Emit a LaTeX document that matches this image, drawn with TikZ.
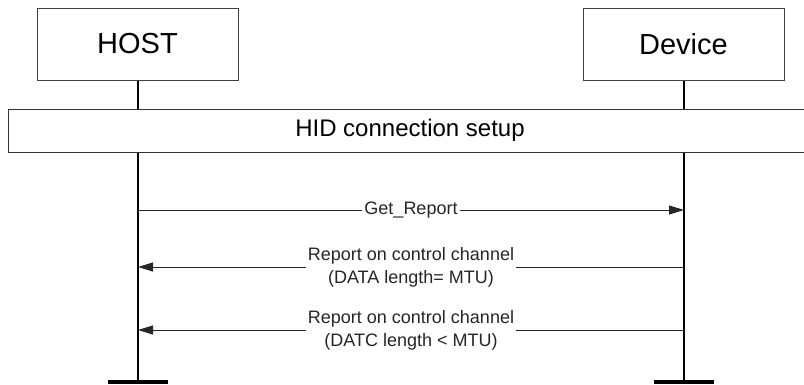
\documentclass[tikz,border=0pt]{standalone}
\usepackage{fontspec}
\setmainfont{Liberation Sans}
\usetikzlibrary{arrows.meta}
\tikzset{
  actor/.style={draw=black!75, line width=1pt, fill=white, minimum width=201pt, minimum height=72pt, inner sep=0pt, font=\fontsize{29}{34}\selectfont},
  setupbox/.style={draw=black!80, line width=1pt, fill=white, minimum width=798pt, minimum height=43pt, inner sep=0pt},
  setuplbl/.style={inner sep=0pt, font=\fontsize{24}{28}\selectfont},
  life/.style={line width=2pt, black},
  endbar/.style={line width=4pt, black},
  msg/.style={line width=1pt, black!85, -{Triangle[length=15pt,width=9pt]}},
  lbl/.style={fill=white, inner sep=2pt, align=center, font=\fontsize{18}{23}\selectfont},
}
\begin{document}
\begin{tikzpicture}[x=1pt, y=-1pt]
\useasboundingbox (0,0) rectangle (804,384);
\node[actor] (host) at (137.5,44) {HOST};
\node[actor] (dev) at (683.5,44) {Device};
\coordinate (hostend) at (138,384);
\coordinate (devend) at (684,384);
\draw[life] (host.south -| hostend) -- (hostend);
\draw[life] (dev.south -| devend) -- (devend);
\coordinate (hbl) at (108,382);
\coordinate (hbr) at (168,382);
\coordinate (dbl) at (654,382);
\coordinate (dbr) at (714,382);
\draw[endbar] (hbl) -- (hbr);
\draw[endbar] (dbl) -- (dbr);
\node[setupbox] (setup) at (407,130.5) {};
\node[setuplbl] (setuptext) at (410,130.5) {HID connection setup};
\coordinate (h1) at (138,210);
\coordinate (d1) at (684,210);
\coordinate (h2) at (138,267);
\coordinate (d2) at (684,267);
\coordinate (h3) at (138,330);
\coordinate (d3) at (684,330);
\draw[msg] (h1) -- node[lbl] (m1) {Get\_Report} (d1);
\draw[msg] (d2) -- node[lbl] (m2) {Report on control channel\\(DATA length= MTU)} (h2);
\draw[msg] (d3) -- node[lbl] (m3) {Report on control channel\\(DATC length < MTU)} (h3);
\end{tikzpicture}
\end{document}
